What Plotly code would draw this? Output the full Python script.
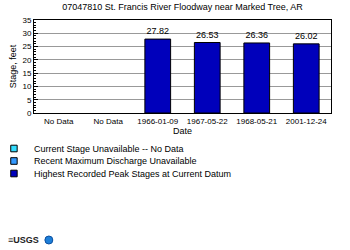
import plotly.graph_objects as go

title = "07047810 St. Francis River Floodway near Marked Tree, AR"
tick_labels = ["No Data", "No Data", "1966-01-09", "1967-05-22", "1968-05-21", "2001-12-24"]
peak_stages = [None, None, 27.82, 26.53, 26.36, 26.02]
legend_labels = ["Current Stage Unavailable -- No Data",
                 "Recent Maximum Discharge Unavailable",
                 "Highest Recorded Peak Stages at Current Datum"]
legend_colors = ["#33DDFF", "#3399FF", "#0000BB"]

xs = list(range(len(tick_labels)))
font = "Liberation Sans, Arial, sans-serif"

fig = go.Figure()
fig.add_trace(go.Bar(
    x=xs, y=peak_stages, width=0.52,
    marker=dict(color="#0000BB", line=dict(color="black", width=1)),
    text=[f"{v:.2f}" if v is not None else "" for v in peak_stages],
    textposition="outside", cliponaxis=False,
    textfont=dict(size=9, color="black", family=font),
    showlegend=False,
))

fig.update_layout(
    width=350, height=250,
    margin=dict(l=31, r=19, t=20, b=137),
    paper_bgcolor="white", plot_bgcolor="white",
    font=dict(family=font, size=8, color="black"),
    title=dict(text=title, x=0.5, xref="paper", y=0.985, yanchor="top",
               font=dict(size=9, family=font)),
    xaxis=dict(range=[-0.5, 5.5], tickvals=xs, ticktext=tick_labels,
               showline=True, linecolor="black", linewidth=1, mirror=True,
               ticks="", showgrid=False, tickfont=dict(size=8),
               title=dict(text="Date", font=dict(size=9), standoff=2)),
    yaxis=dict(range=[0, 35], dtick=5, showline=True, linecolor="black",
               linewidth=1, mirror=True, ticks="inside", ticklen=4,
               tickcolor="black", showgrid=True, gridcolor="#999999",
               gridwidth=1, tickfont=dict(size=8),
               minor=dict(dtick=1, ticks="inside", ticklen=2, tickcolor="black"),
               title=dict(text="Stage, feet", font=dict(size=9), standoff=4),
               zeroline=False),
)

def px_x(px):
    return (px - 31) / 300

def px_y(py):
    return (113 - py) / 93

# manual legend
for i, (lab, col) in enumerate(zip(legend_labels, legend_colors)):
    yc = 148.5 + 12.5 * i
    fig.add_shape(type="rect", xref="paper", yref="paper",
                  x0=px_x(7.5), x1=px_x(14),
                  y0=px_y(yc + 3.3), y1=px_y(yc - 3.3),
                  fillcolor=col, line=dict(color="black", width=1))
    fig.add_annotation(text=lab, xref="paper", yref="paper",
                       x=px_x(29), y=px_y(yc),
                       xanchor="left", yanchor="middle", showarrow=False,
                       font=dict(size=9, family=font))

# logos (approximation)
fig.add_annotation(text="<b>≡USGS</b>", xref="paper", yref="paper",
                   x=px_x(3), y=px_y(240),
                   xanchor="left", yanchor="middle", showarrow=False,
                   font=dict(size=9, family=font, color="#222222"))
fig.add_shape(type="circle", xref="paper", yref="paper",
              x0=px_x(42), x1=px_x(50),
              y0=px_y(244), y1=px_y(236),
              fillcolor="#1E7FD8", line=dict(color="#0B4FA0", width=1))

fig.write_html("out.html")
